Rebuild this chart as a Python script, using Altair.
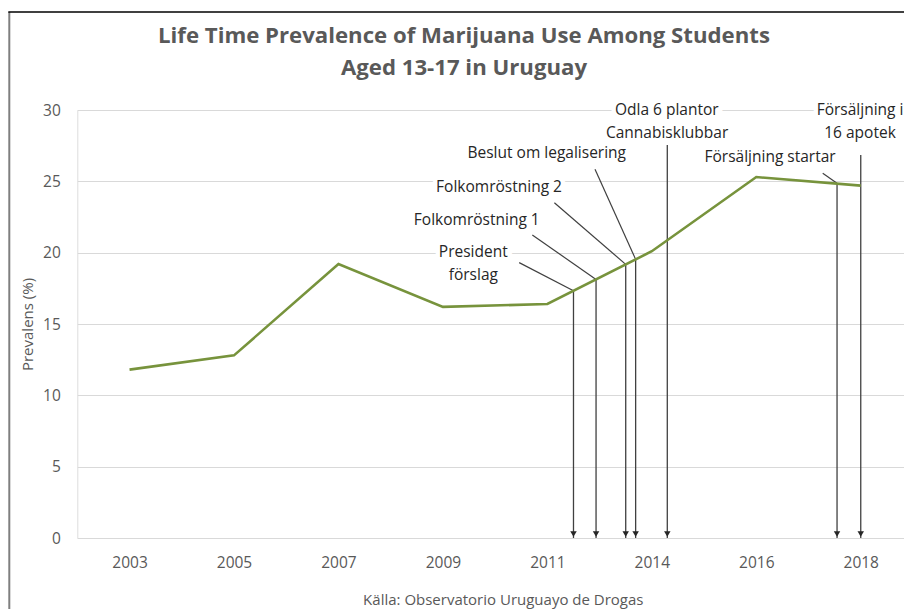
import json
import altair as alt
import pandas as pd

# Survey years (shown as evenly spaced categories) and lifetime prevalence (%)
years = ["2003", "2005", "2007", "2009", "2011", "2014", "2016", "2018"]
prevalence = [11.8, 12.8, 19.2, 16.2, 16.4, 20.1, 25.3, 24.7]

# Policy events: position on the category axis (index units) and where each arrow begins
event_pos = [4.25, 4.466, 4.75, 4.845, 5.148, 6.773, 7.0]
event_top = [17.33, 18.12, 19.18, 19.53, 27.55, 24.86, 26.85]

# Annotation labels: text, centre position (index units, %)
label_text = ["President", "förslag", "Folkomröstning 1", "Folkomröstning 2",
              "Beslut om legalisering", "Odla 6 plantor", "Cannabisklubbar",
              "Försäljning startar", "Försäljning i", "16 apotek"]
label_x = [3.291, 3.291, 3.324, 3.537, 3.994, 5.143, 5.146, 6.132, 6.993, 6.993]
label_y = [20.03, 18.43, 22.29, 24.62, 26.96, 30.0, 28.41, 26.73, 30.0, 28.41]

# Leader lines from a label to the top of its arrow
leader_x = [3.73, 3.856, 4.067, 4.456, 6.636]
leader_y = [19.30, 21.24, 23.50, 25.84, 25.56]
leader_x2 = [4.25, 4.466, 4.75, 4.845, 6.773]
leader_y2 = [17.33, 18.12, 19.18, 19.53, 24.86]

title_lines = ["Life Time Prevalence of Marijuana Use Among Students", "Aged 13-17 in Uruguay"]
source_note = "Källa: Observatorio Uruguayo de Drogas"

FONT = "Open Sans"
GREY = "#595959"
INK = "#262626"

line_df = pd.DataFrame({"x": list(range(len(years))), "y": prevalence})
event_df = pd.DataFrame({"x": event_pos, "y": event_top, "y2": [0] * len(event_pos)})
label_df = pd.DataFrame({"x": label_x, "y": label_y, "t": label_text})
leader_df = pd.DataFrame({"x": leader_x, "y": leader_y, "x2": leader_x2, "y2": leader_y2})
one = pd.DataFrame({"k": [0]})

W, H = 826.7, 428

x_enc = alt.X(
    "x:Q",
    scale=alt.Scale(domain=[-0.5, 7.414], nice=False, zero=False),
    axis=alt.Axis(
        values=list(range(len(years))),
        labelExpr=f"{json.dumps(years)}[datum.value]",
        grid=False, ticks=False, domain=False, title=None,
        labelFont=FONT, labelFontSize=15.5, labelColor=GREY,
        labelPadding=17, labelFlush=False,
    ),
)
y_enc = alt.Y(
    "y:Q",
    scale=alt.Scale(domain=[0, 30], nice=False),
    axis=alt.Axis(
        values=[0, 5, 10, 15, 20, 25, 30],
        grid=True, gridColor="#d9d9d9", gridWidth=1,
        ticks=False, domain=False,
        labelFont=FONT, labelFontSize=15.5, labelColor=GREY, labelPadding=17,
        title="Prevalens (%)", titleFont=FONT, titleFontSize=15,
        titleFontWeight="normal", titleColor=GREY,
        titleX=-50, titleY=H / 2, titleAngle=-90,
        titleAlign="center", titleBaseline="middle",
    ),
)

line = alt.Chart(line_df).mark_line(color="#77933C", strokeWidth=2.6).encode(x=x_enc, y=y_enc)

arrows = alt.Chart(event_df).mark_rule(color="#404040", strokeWidth=1.3).encode(
    x=x_enc, y=y_enc, y2="y2:Q"
)
heads = alt.Chart(event_df).mark_point(
    shape="triangle-down", filled=True, color=INK, opacity=1, size=42, yOffset=-4
).encode(x=x_enc, y=alt.Y("y2:Q"))

leaders = alt.Chart(leader_df).mark_rule(color="#404040", strokeWidth=1.2).encode(
    x=x_enc, y=y_enc, x2="x2:Q", y2="y2:Q"
)

label_halo = alt.Chart(label_df).mark_text(
    font=FONT, fontSize=15.5, color="white", stroke="white", strokeWidth=9,
    align="center", baseline="middle",
).encode(x=x_enc, y=y_enc, text="t:N")
labels = alt.Chart(label_df).mark_text(
    font=FONT, fontSize=15.5, color=INK, align="center", baseline="middle",
).encode(x=x_enc, y=y_enc, text="t:N")

# Two-line chart title above the plot
title = alt.Chart(one).mark_text(
    font=FONT, fontSize=22.2, fontWeight="bold", color=GREY,
    align="center", baseline="middle", lineHeight=32,
).encode(x=alt.value(386.7), y=alt.value(-74), text=alt.value(title_lines))

# Source note below the axis
source = alt.Chart(one).mark_text(
    font=FONT, fontSize=15, color=GREY, align="center", baseline="middle",
).encode(x=alt.value(426), y=alt.value(490), text=alt.value(source_note))

# Outer frame (left and top edges)
frame_left = alt.Chart(one).mark_rule(color="#7f7f7f", strokeWidth=2).encode(
    x=alt.value(-68), y=alt.value(-98), y2=alt.value(500)
)
frame_top = alt.Chart(one).mark_rule(color="black", strokeWidth=1.5).encode(
    x=alt.value(-69), x2=alt.value(W + 5), y=alt.value(-98)
)

chart = alt.layer(
    frame_left, frame_top, label_halo, leaders, arrows, heads, line, labels, title, source
).properties(
    width=W,
    height=H,
    padding={"left": 77.3, "top": 110, "right": 0, "bottom": 71},
    autosize=alt.AutoSizeParams(type="none"),
).configure_view(stroke=None).configure(background="white")

chart.save("out.html", embed_options={"renderer": "svg", "actions": False})
